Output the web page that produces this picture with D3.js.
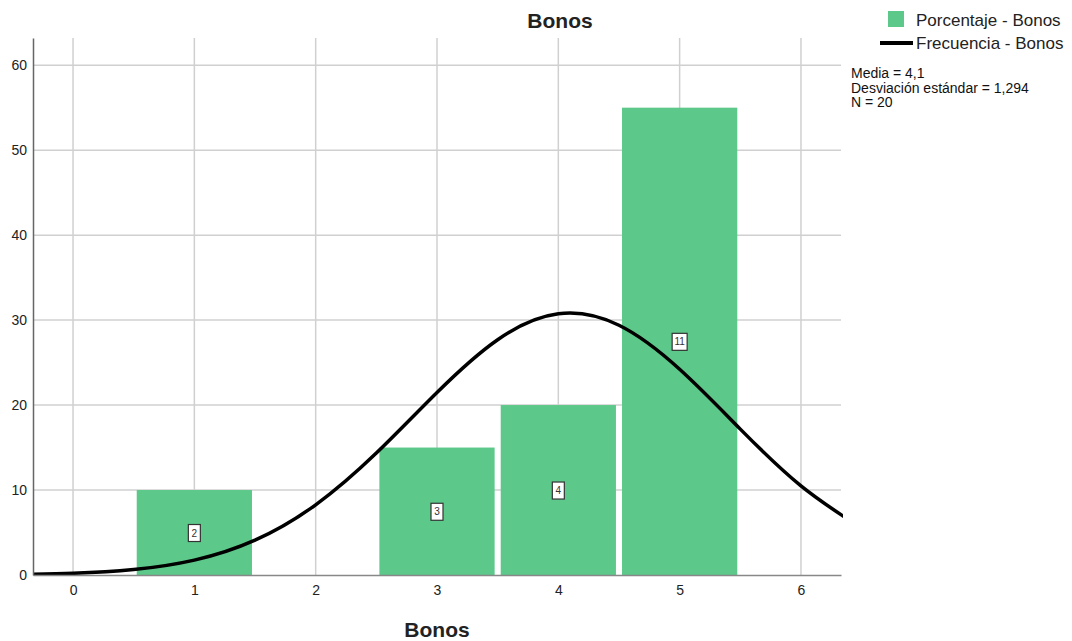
<!DOCTYPE html>
<html><head><meta charset="utf-8">
<script src="https://cdn.jsdelivr.net/npm/d3@7"></script>
<style>body{margin:0;background:#fff;font-family:Arial,"Liberation Sans",sans-serif;}</style>
</head><body><svg id="c" width="1072" height="641"></svg>
<script>
const categories = [1, 3, 4, 5];
const percentages = [10, 15, 20, 55];
const counts = [2, 3, 4, 11];
const xTicks = [0, 1, 2, 3, 4, 5, 6];
const yTicks = [0, 10, 20, 30, 40, 50, 60];
const curveX = [-0.5, 0, 0.5, 1, 1.5, 2, 2.5, 3, 3.5, 4, 4.5, 5, 5.5, 6, 6.5];
const curveY = [0.06, 0.20, 0.64, 1.75, 4.10, 8.26, 14.35, 21.48, 27.69, 30.74, 29.39, 24.21, 17.17, 10.49, 5.52];
const statsLines = ["Media = 4,1", "Desviación estándar = 1,294", "N = 20"];

const svg = d3.select("#c");
const L = 33, R = 841, T = 38, B = 575;
const x = d3.scaleLinear().domain([-0.33, 6.33]).range([L, R]);
const y = d3.scaleLinear().domain([0, 63.2]).range([B, T]);
const green = "#5cc98a";
const font = "Arial, 'Liberation Sans', sans-serif";

// grid
svg.append("g").selectAll("line").data(yTicks.slice(1)).join("line")
  .attr("x1", L).attr("x2", R).attr("y1", d => y(d)).attr("y2", d => y(d))
  .attr("stroke", "#d0d0d0").attr("stroke-width", 1.5);
svg.append("g").selectAll("line").data(xTicks).join("line")
  .attr("x1", d => x(d)).attr("x2", d => x(d)).attr("y1", T).attr("y2", B)
  .attr("stroke", "#d0d0d0").attr("stroke-width", 1.5);

// bars
const bw = 0.475;
svg.append("g").selectAll("rect").data(categories).join("rect")
  .attr("x", d => x(d - bw)).attr("width", d => x(d + bw) - x(d - bw))
  .attr("y", (d, i) => y(percentages[i])).attr("height", (d, i) => B - y(percentages[i]))
  .attr("fill", green);

// curve
const line = d3.line().x(d => x(d[0])).y(d => y(d[1])).curve(d3.curveNatural);
svg.append("clipPath").attr("id", "clp").append("rect").attr("x", L).attr("y", T).attr("width", R - L + 2).attr("height", B - T);
svg.append("path").datum(curveX.map((v, i) => [v, curveY[i]]))
  .attr("d", line).attr("fill", "none").attr("stroke", "#000").attr("stroke-width", 3.5)
  .attr("clip-path", "url(#clp)");

// count labels
const lab = svg.append("g").selectAll("g").data(categories).join("g")
  .attr("transform", (d, i) => `translate(${x(d)},${y(percentages[i] / 2)})`);
lab.append("rect").attr("x", (d, i) => counts[i] > 9 ? -7.5 : -6).attr("y", -8)
  .attr("width", (d, i) => counts[i] > 9 ? 15 : 12).attr("height", 17)
  .attr("fill", "#fff").attr("stroke", "#333").attr("stroke-width", 1.2);
lab.append("text").text((d, i) => counts[i]).attr("text-anchor", "middle").attr("dy", 4)
  .attr("font-size", 10).attr("fill", "#333");

// axes
const xa = svg.append("g").attr("transform", `translate(0,${B})`)
  .call(d3.axisBottom(x).tickValues(xTicks).tickSize(0).tickPadding(10).tickFormat(d3.format("d")));
xa.select(".domain").attr("stroke", "#888").attr("stroke-width", 1.5);
xa.selectAll("text").attr("font-size", 14).attr("fill", "#222").attr("font-family", font);
const ya = svg.append("g").attr("transform", `translate(${L},0)`)
  .call(d3.axisLeft(y).tickValues(yTicks).tickSize(0).tickPadding(6).tickFormat(d3.format("d")));
ya.select(".domain").attr("stroke", "#666").attr("stroke-width", 1.5);
ya.selectAll("text").attr("font-size", 14).attr("fill", "#222").attr("font-family", font);

// titles
svg.append("text").text("Bonos").attr("x", 560).attr("y", 28).attr("text-anchor", "middle")
  .attr("font-size", 21).attr("font-weight", "bold").attr("fill", "#222");
svg.append("text").text("Bonos").attr("x", 437).attr("y", 637).attr("text-anchor", "middle")
  .attr("font-size", 21).attr("font-weight", "bold").attr("fill", "#222");

// legend
svg.append("rect").attr("x", 888).attr("y", 11).attr("width", 16).attr("height", 16).attr("fill", green);
svg.append("text").text("Porcentaje - Bonos").attr("x", 916).attr("y", 26).attr("font-size", 17).attr("fill", "#222");
svg.append("line").attr("x1", 880).attr("x2", 913).attr("y1", 43).attr("y2", 43).attr("stroke", "#000").attr("stroke-width", 4);
svg.append("text").text("Frecuencia - Bonos").attr("x", 916).attr("y", 49).attr("font-size", 17).attr("fill", "#222");

svg.append("g").selectAll("text").data(statsLines).join("text")
  .text(d => d).attr("x", 851).attr("y", (d, i) => 78 + i * 14.5)
  .attr("font-size", 14).attr("fill", "#111");
</script></body></html>
